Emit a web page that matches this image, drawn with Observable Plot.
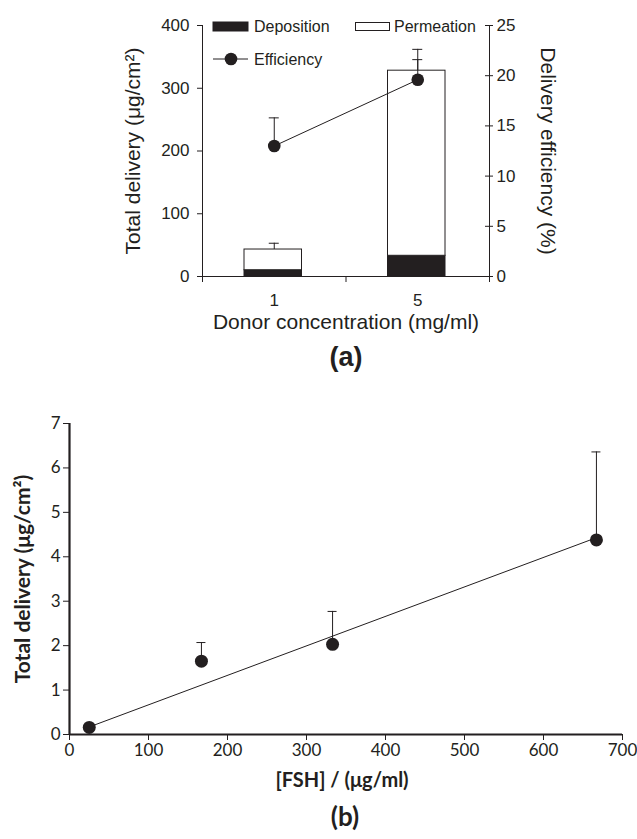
<!DOCTYPE html>
<html><head><meta charset="utf-8">
<script src="https://cdn.jsdelivr.net/npm/d3@7"></script>
<script src="https://cdn.jsdelivr.net/npm/@observablehq/plot@0.6"></script>
<style>
body{margin:0;background:#fff;}
#wrap{position:relative;width:637px;height:839px;overflow:hidden;background:#fff}
#wrap > svg{display:block}
#legend{position:absolute;left:0;top:0}
</style></head><body><div id="wrap"></div>
<script>
const ink = "#231f20";
// ---- panel (a) data ----
const concentrations = ["1", "5"];
const deposition = [10, 33];
const permeation = [33, 295];
const totalErrTop = [53, 362];
const efficiency = [13.0, 19.6];
const efficiencyErrTop = [15.8, 21.6];
const leftTicks = [0, 100, 200, 300, 400];
const rightTicks = [0, 5, 10, 15, 20, 25];
// ---- panel (b) data ----
const fsh = [25, 167, 333, 667];
const delivery = [0.16, 1.65, 2.03, 4.38];
const deliveryErrTop = [0.2, 2.07, 2.77, 6.36];
const fitX = [25, 667];
const fitY = [0.17, 4.43];
const xTicksB = [0, 100, 200, 300, 400, 500, 600, 700];
const yTicksB = [0, 1, 2, 3, 4, 5, 6, 7];

const k = 400 / 25;
const a = concentrations.map((c, i) => ({
  c, i,
  dep: deposition[i],
  tot: deposition[i] + permeation[i],
  err: totalErrTop[i],
  eff: efficiency[i] * k,
  effErr: efficiencyErrTop[i] * k
}));

const topPlot = Plot.plot({
  width: 637, height: 400,
  marginLeft: 202, marginRight: 148, marginTop: 25, marginBottom: 124,
  style: {fontFamily: "'Liberation Sans', Arial, sans-serif", fontSize: "17px", color: ink, background: "white"},
  x: {domain: [0, 2]},
  y: {domain: [0, 400]},
  marks: [
    Plot.ruleX(a, {x: d => d.i + 0.5, y1: "tot", y2: "err", stroke: ink}),
    Plot.ruleY(a, {y: "err", x1: d => d.i + 0.5, x2: d => d.i + 0.5, insetLeft: -5, insetRight: -5, stroke: ink}),
    Plot.rect(a, {x1: "i", x2: d => d.i + 1, y1: 0, y2: "dep", insetLeft: 42, insetRight: 44, fill: ink, stroke: ink}),
    Plot.rect(a, {x1: "i", x2: d => d.i + 1, y1: "dep", y2: "tot", insetLeft: 42, insetRight: 44, fill: "white", stroke: ink}),
    Plot.line(a, {x: d => d.i + 0.5, y: "eff", stroke: ink, strokeWidth: 1}),
    Plot.ruleX(a, {x: d => d.i + 0.5, y1: "eff", y2: "effErr", stroke: ink}),
    Plot.ruleY(a, {y: "effErr", x1: d => d.i + 0.5, x2: d => d.i + 0.5, insetLeft: -5, insetRight: -5, stroke: ink}),
    Plot.dot(a, {x: d => d.i + 0.5, y: "eff", r: 6.3, fill: ink, stroke: "none"}),
    Plot.axisY({ticks: leftTicks, anchor: "left", tickSize: 5, tickPadding: 8, tickFormat: d => d, label: null}),
    Plot.axisY({ticks: rightTicks.map(t => t * k), anchor: "right", tickSize: 0, tickPadding: 7, tickFormat: d => d / k, label: null}),
    Plot.ruleY(rightTicks.map(t => t * k), {x1: 2, x2: 2, insetLeft: -4, insetRight: -4, stroke: ink}),
    Plot.axisX({ticks: [0, 1, 2], tickSize: 6, tickFormat: () => "", label: null}),
    Plot.axisX({ticks: [0.5, 1.5], tickSize: 0, tickPadding: 17, tickFormat: d => concentrations[d - 0.5], label: null}),
    Plot.ruleX([0, 2], {stroke: ink}),
    Plot.ruleY([0], {stroke: ink}),
    Plot.text(["Total delivery (μg/cm²)"], {frameAnchor: "left", textAnchor: "middle", dx: -69, rotate: -90, fontSize: 21}),
    Plot.text(["Delivery efficiency (%)"], {frameAnchor: "right", textAnchor: "middle", dx: 58, rotate: 90, fontSize: 21}),
    Plot.text(["Donor concentration (mg/ml)"], {frameAnchor: "bottom", dy: 52, fontSize: 21}),
    Plot.text(["(a)"], {frameAnchor: "bottom", dy: 89, fontSize: 27, fontWeight: "bold"})
  ]
});

const b = fsh.map((x, i) => ({x, y: delivery[i], e: deliveryErrTop[i]}));
const bottomPlot = Plot.plot({
  width: 637, height: 439,
  marginLeft: 69, marginRight: 15, marginTop: 23, marginBottom: 105,
  style: {fontFamily: "Lato, 'Open Sans', sans-serif", fontSize: "17px", color: ink, background: "white"},
  x: {domain: [0, 700]},
  y: {domain: [0, 7]},
  marks: [
    Plot.axisX({ticks: xTicksB, tickSize: 6, tickPadding: 3, tickFormat: d => d, label: null}),
    Plot.axisY({ticks: yTicksB, tickSize: 6, tickPadding: 3, tickFormat: d => d, label: null}),
    Plot.ruleX([0], {stroke: ink, strokeWidth: 2.2}),
    Plot.ruleY([0], {stroke: ink, strokeWidth: 2.2}),
    Plot.line({length: 2}, {x: fitX, y: fitY, stroke: ink, strokeWidth: 1}),
    Plot.ruleX(b, {x: "x", y1: "y", y2: "e", stroke: ink}),
    Plot.ruleY(b, {y: "e", x1: "x", x2: "x", insetLeft: -4.5, insetRight: -4.5, stroke: ink}),
    Plot.dot(b, {x: "x", y: "y", r: 6.5, fill: ink, stroke: "none"}),
    Plot.text(["Total delivery (μg/cm²)"], {frameAnchor: "left", textAnchor: "middle", dx: -46, rotate: -90, fontWeight: "bold", fontSize: 21}),
    Plot.text(["[FSH] / (μg/ml)"], {frameAnchor: "bottom", dy: 52, dx: -4, fontWeight: "bold", fontSize: 20}),
    Plot.text(["(b)"], {frameAnchor: "bottom", dy: 91, dx: -1, fontWeight: "bold", fontSize: 26})
  ]
});

const wrap = document.getElementById("wrap");
wrap.appendChild(topPlot);
wrap.appendChild(bottomPlot);

// legend for panel (a)
const ns = "http://www.w3.org/2000/svg";
const leg = document.createElementNS(ns, "svg");
leg.setAttribute("id", "legend");
leg.setAttribute("width", 637);
leg.setAttribute("height", 80);
leg.style.fontFamily = "'Liberation Sans', Arial, sans-serif";
leg.style.fontSize = "16px";
const legendItems = ["Deposition", "Permeation", "Efficiency"];
leg.innerHTML = `
  <rect x="213" y="22" width="35" height="9" fill="${ink}" stroke="${ink}"/>
  <text x="254" y="26.5" dy="0.35em" fill="${ink}">${legendItems[0]}</text>
  <rect x="355.5" y="22.5" width="34" height="8" fill="white" stroke="${ink}"/>
  <text x="394" y="26.5" dy="0.35em" fill="${ink}">${legendItems[1]}</text>
  <line x1="213" x2="248" y1="59" y2="59" stroke="${ink}"/>
  <circle cx="231" cy="59" r="6.3" fill="${ink}"/>
  <text x="254" y="59" dy="0.35em" fill="${ink}">${legendItems[2]}</text>`;
wrap.appendChild(leg);
</script></body></html>
